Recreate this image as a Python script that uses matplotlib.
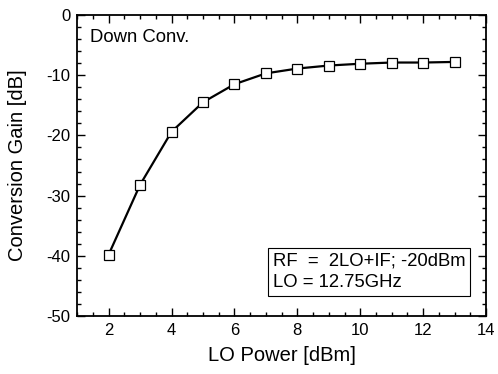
import matplotlib
matplotlib.use('Agg')
import matplotlib.pyplot as plt
from matplotlib.ticker import MultipleLocator

plt.rcParams['font.family'] = ['Liberation Sans', 'DejaVu Sans']
plt.rcParams['axes.unicode_minus'] = False

lo_power = [2, 3, 4, 5, 6, 7, 8, 9, 10, 11, 12, 13]
conv_gain = [-39.8, -28.2, -19.4, -14.5, -11.5, -9.7, -8.9, -8.4, -8.1, -7.9, -7.9, -7.8]

fig = plt.figure(figsize=(4.98, 3.74), dpi=100)
ax = fig.add_axes([0.155, 0.155, 0.821, 0.805])

ax.plot(lo_power, conv_gain, color='black', lw=1.6, marker='s', ms=7.5,
        mfc='white', mec='black', mew=0.9)

ax.set_xlim(1, 14)
ax.set_ylim(-50, 0)
ax.xaxis.set_major_locator(MultipleLocator(2))
ax.xaxis.set_minor_locator(MultipleLocator(0.5))
ax.yaxis.set_major_locator(MultipleLocator(10))
ax.yaxis.set_minor_locator(MultipleLocator(2))
ax.tick_params(which='both', direction='in', top=True, right=True, labelsize=12, pad=5)
ax.tick_params(which='major', length=6, width=1)
ax.tick_params(which='minor', length=3, width=1)
for s in ax.spines.values():
    s.set_linewidth(1.3)

ax.set_xlabel('LO Power [dBm]', fontsize=14.5, labelpad=6)
ax.set_ylabel('Conversion Gain [dB]', fontsize=14.5, labelpad=14)

ax.text(0.032, 0.924, 'Down Conv.', transform=ax.transAxes, fontsize=13.3, va='center')
ax.text(0.478, 0.146, 'RF  =  2LO+IF; -20dBm\nLO = 12.75GHz', transform=ax.transAxes,
        fontsize=13.3, va='center', linespacing=1.35,
        bbox=dict(boxstyle='square,pad=0.25', fc='white', ec='black', lw=0.8))

fig.savefig('out.png', dpi=100)
